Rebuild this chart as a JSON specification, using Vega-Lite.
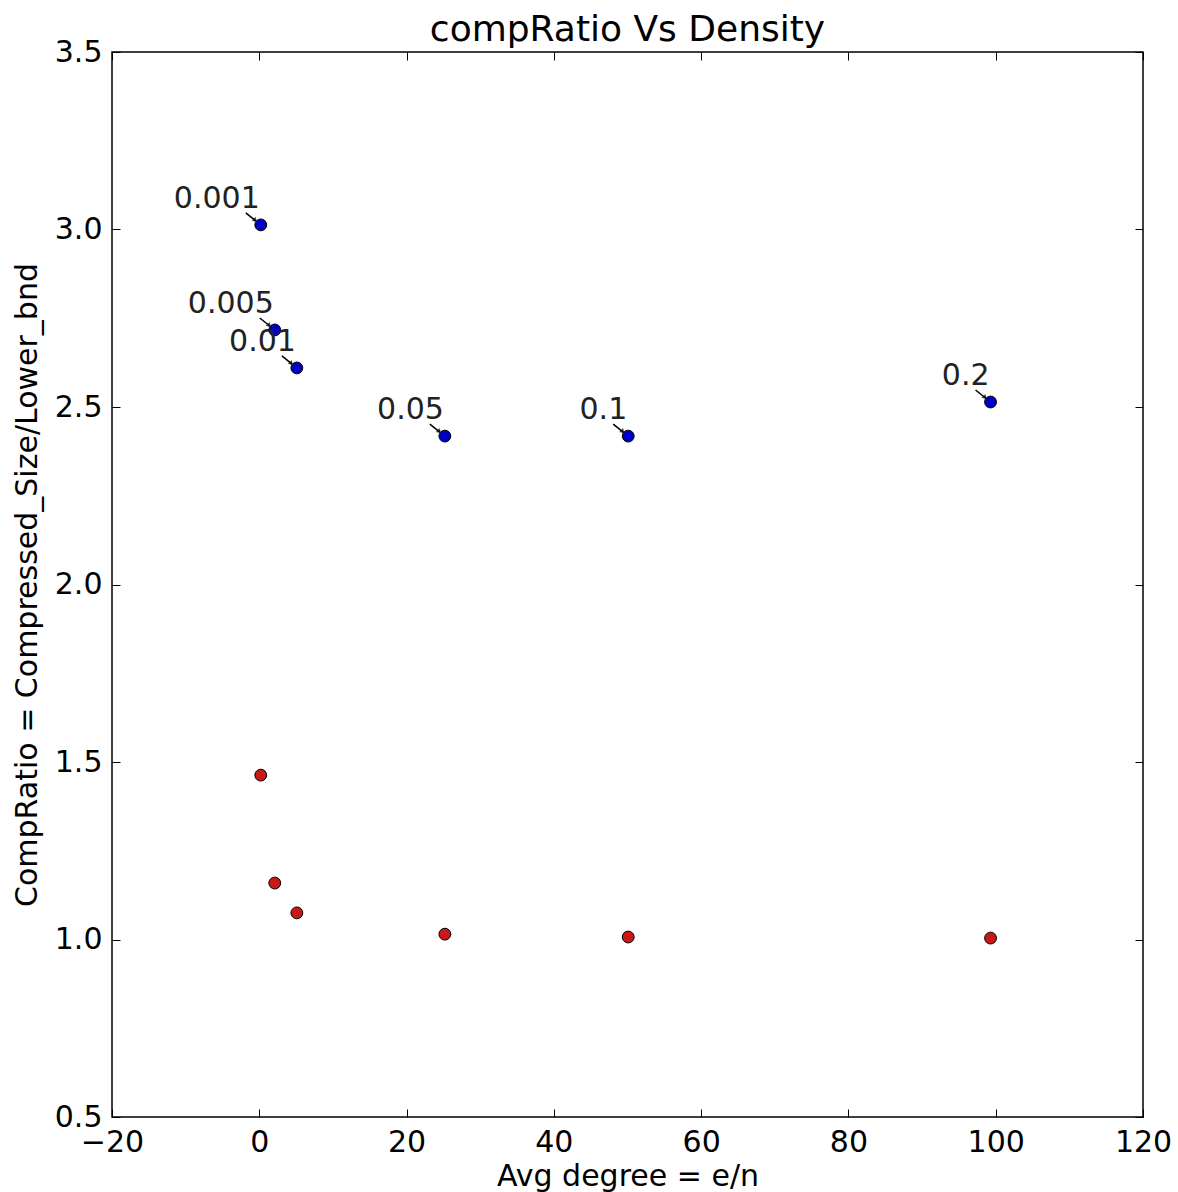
{
  "$schema": "https://vega.github.io/schema/vega-lite/v6.json",
  "width": 1031,
  "height": 1065,
  "autosize": "none",
  "padding": {"left": 112, "top": 52, "right": 35, "bottom": 75},
  "background": "white",
  "config": {
    "font": "DejaVu Sans",
    "view": {"stroke": "black", "strokeWidth": 1.5},
    "axis": {"grid": false, "domain": false, "labelFlush": false, "tickColor": "black", "tickSize": -8, "tickWidth": 1, "labelColor": "black", "titleColor": "black", "labelFont": "DejaVu Sans", "titleFont": "DejaVu Sans", "labelFontSize": 30, "titleFontSize": 30, "titleFontWeight": "normal"}
  },
  "title": {"text": "compRatio Vs Density", "fontSize": 36, "fontWeight": "normal", "font": "DejaVu Sans", "color": "black", "offset": -12},
  "data": {"values": [
    {"density": "0.001", "deg": 0.2, "upper": 3.013, "lower": 1.463},
    {"density": "0.005", "deg": 2.1, "upper": 2.717, "lower": 1.159},
    {"density": "0.01", "deg": 5.1, "upper": 2.61, "lower": 1.075},
    {"density": "0.05", "deg": 25.2, "upper": 2.418, "lower": 1.015},
    {"density": "0.1", "deg": 50.1, "upper": 2.418, "lower": 1.007},
    {"density": "0.2", "deg": 99.3, "upper": 2.514, "lower": 1.004}
  ]},
  "layer": [
    {
      "mark": {"type": "rule", "color": "black", "strokeWidth": 1.5, "xOffset": -15, "yOffset": -12, "x2Offset": -5, "y2Offset": -4},
      "encoding": {
        "x": {"field": "deg", "type": "quantitative", "scale": {"domain": [-20, 120], "nice": false, "zero": false},
          "axis": {"values": [-20, 0, 20, 40, 60, 80, 100, 120], "labelPadding": 18, "title": "Avg degree = e/n", "titlePadding": 4, "labelExpr": "replace(datum.label, '-', '−')"}},
        "y": {"field": "upper", "type": "quantitative", "scale": {"domain": [0.5, 3.5], "nice": false, "zero": false},
          "axis": {"values": [0.5, 1.0, 1.5, 2.0, 2.5, 3.0, 3.5], "format": ".1f", "labelPadding": 18, "title": "CompRatio = Compressed_Size/Lower_bnd", "titlePadding": 12}},
        "x2": {"field": "deg"},
        "y2": {"field": "upper"}
      }
    },
    {
      "mark": {"type": "point", "shape": "triangle", "filled": true, "color": "black", "size": 30, "angle": 135, "xOffset": -6, "yOffset": -5},
      "encoding": {
        "x": {"field": "deg", "type": "quantitative", "axis": null},
        "y": {"field": "upper", "type": "quantitative", "axis": null}
      }
    },
    {
      "mark": {"type": "point", "filled": true, "fill": "#0000c0", "stroke": "black", "strokeWidth": 1, "size": 140, "opacity": 1},
      "encoding": {
        "x": {"field": "deg", "type": "quantitative", "axis": null},
        "y": {"field": "upper", "type": "quantitative", "axis": null}
      }
    },
    {
      "mark": {"type": "point", "filled": true, "fill": "#c81818", "stroke": "black", "strokeWidth": 1, "size": 140, "opacity": 1},
      "encoding": {
        "x": {"field": "deg", "type": "quantitative", "axis": null},
        "y": {"field": "lower", "type": "quantitative", "axis": null}
      }
    },
    {
      "mark": {"type": "text", "align": "right", "baseline": "alphabetic", "dx": -1, "dy": -17, "fontSize": 30, "font": "DejaVu Sans", "color": "#222222"},
      "encoding": {
        "x": {"field": "deg", "type": "quantitative", "axis": null},
        "y": {"field": "upper", "type": "quantitative", "axis": null},
        "text": {"field": "density"}
      }
    },
    {
      "mark": {"type": "rule", "opacity": 0},
      "encoding": {
        "x": {"field": "deg", "type": "quantitative", "axis": {"orient": "top", "values": [-20, 0, 20, 40, 60, 80, 100, 120], "labels": false, "title": null}},
        "y": {"field": "upper", "type": "quantitative", "axis": {"orient": "right", "values": [0.5, 1.0, 1.5, 2.0, 2.5, 3.0, 3.5], "labels": false, "title": null}}
      }
    }
  ],
  "resolve": {"axis": {"x": "independent", "y": "independent"}}
}
